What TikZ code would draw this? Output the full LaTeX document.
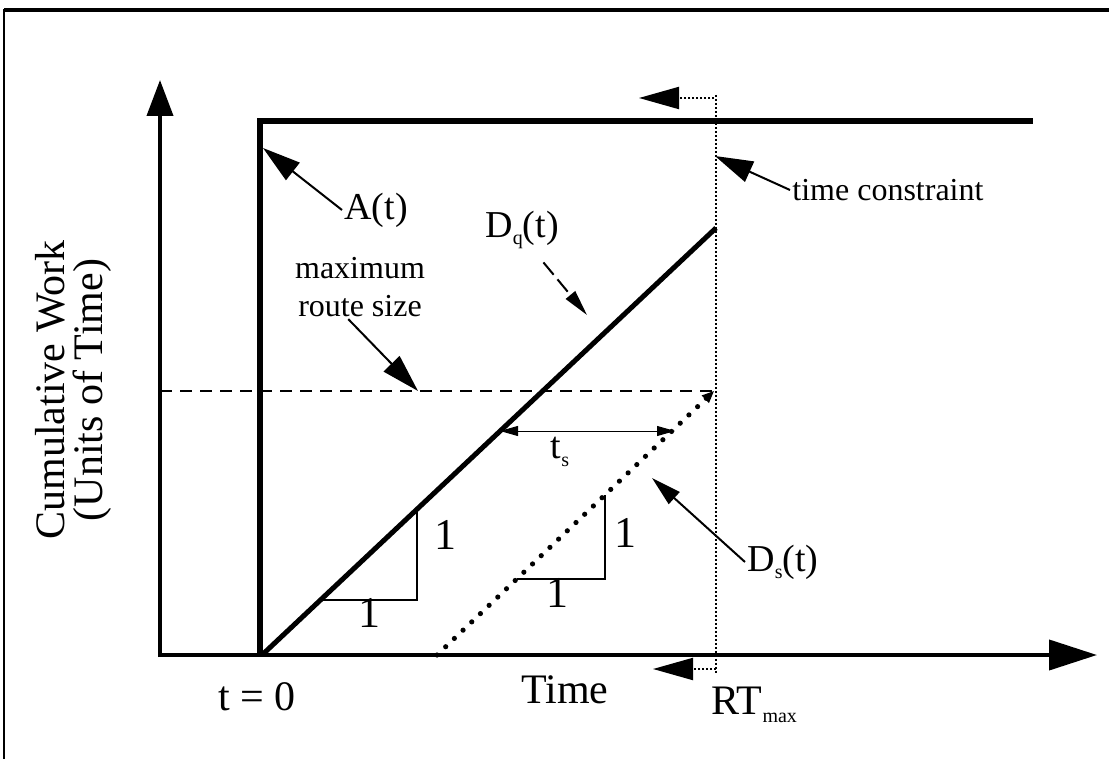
\documentclass[tikz,border=0pt]{standalone}
\usepackage{fontspec}
\setmainfont{Liberation Serif}
\usetikzlibrary{arrows.meta, positioning, calc}
\newcommand{\lowsub}[1]{\raisebox{-0.45ex}{\fontsize{10}{10}\selectfont #1}}

\begin{document}
\begin{tikzpicture}[x=0.5pt, y=-0.5pt,
    axis/.style={line width=2pt, -{Triangle[length=18pt, width=13pt]}},
    pointer/.style={line width=1pt, -{Triangle[length=19pt, width=11pt]}},
    smallptr/.style={line width=1pt, -{Triangle[length=13pt, width=6pt]}},
    limit/.style={line width=1pt, dash pattern=on 1pt off 1pt,
                  -{Triangle[length=20pt, width=11pt]}},
    lbl/.style={inner sep=1pt, font=\fontsize{16}{19}\selectfont, align=center},
    crv/.style={inner sep=1pt, font=\fontsize{19}{21}\selectfont},
    unit/.style={inner sep=1pt, font=\fontsize{22}{24}\selectfont},
    axlbl/.style={inner sep=1pt, font=\fontsize{21}{24}\selectfont}
]
    \useasboundingbox (0,0) rectangle (1109,759);
    % frame
    \draw[line width=2.2pt] (4,10) -- (1109,10);
    \draw[line width=1pt] (4,9) -- (4,759);

    % axes
    \coordinate (o) at (160,655);
    \coordinate (ytop) at (160,80);
    \coordinate (xend) at (1097,655);
    \draw[axis] ([yshift=-1pt]o) -- (ytop);
    \draw[axis, -{Triangle[length=24pt, width=15pt]}] ([xshift=-1pt]o) -- (xend);

    % arrival curve
    \coordinate (a0) at (260,655);
    \coordinate (a1) at (260,121);
    \coordinate (a2) at (1033,121);
    \draw[line width=3.4pt] (a0) -- (a1) -- (a2);

    % time constraint
    \coordinate (rt0) at (716,95);
    \coordinate (rt1) at (716,673);
    \draw[line width=0.9pt, dash pattern=on 0.9pt off 1.1pt] (rt0) -- (rt1);
    \coordinate (lt0) at (714,98);
    \coordinate (lt1) at (639,98);
    \draw[limit] (lt0) -- (lt1);
    \coordinate (lb0) at (716,669);
    \coordinate (lb1) at (653,669);
    \draw[limit] (lb0) -- (lb1);

    % maximum route size
    \coordinate (m0) at (160,391);
    \coordinate (m1) at (716,391);
    \draw[line width=1.2pt, dash pattern=on 6pt off 4pt] (m0) -- (m1);

    % departure curves
    \coordinate (q0) at (262,655);
    \coordinate (q1) at (716,228);
    \draw[line width=2.5pt] (q0) -- (q1);
    \coordinate (s0) at (437,655);
    \coordinate (s1) at (714,391);
    \draw[line width=2.6pt, line cap=round, dash pattern=on 0pt off 6pt] (s0) -- (s1);
    \draw[line width=1pt, -{Triangle[length=6pt, width=5pt]}] ($(s0)!0.97!(s1)$) -- (s1);

    % slope triangles
    \draw[line width=1pt] (321,600) -- (417,600) -- (417,509);
    \draw[line width=1pt] (517,579) -- (605,579) -- (605,495);
    \node[unit] (u1) at (369,613) {1};
    \node[unit] (u2) at (445,535) {1};
    \node[unit] (u3) at (557,593) {1};
    \node[unit] (u4) at (625,533) {1};

    % slack
    \coordinate (tsl) at (500,431);
    \coordinate (tsr) at (675,431);
    \draw[line width=0.5pt, {Triangle[length=9pt, width=5pt]}-{Triangle[length=9pt, width=5pt]}] (tsl) -- (tsr);
    \node[crv] (ts) at (560,452) {t\lowsub{s}};

    % labels
    \node[crv, anchor=west] (alab) at (342,210) {A(t)};
    \coordinate (atip) at (263,148);
    \draw[pointer] (alab.west) -- (atip);

    \node[lbl, anchor=west] (tc) at (790,190) {time constraint};
    \coordinate (tctip) at (715,156);
    \draw[pointer] (tc.west) -- (tctip);

    \node[lbl] (mrs) at (360,287) {maximum\\route size};
    \coordinate (mtip) at (418,391);
    \draw[pointer] (mrs.250) -- (mtip);

    \node[crv] (dq) at (522,230) {D\lowsub{q}(t)};
    \coordinate (dqtip) at (587,315);
    \draw[smallptr, dash pattern=on 8pt off 3pt, shorten <=7pt] (dq.-60) -- (dqtip);

    \node[crv, anchor=west] (ds) at (745,562) {D\lowsub{s}(t)};
    \coordinate (dstip) at (652,478);
    \draw[line width=1pt, -{Triangle[length=15pt, width=8pt]}] (ds.west) -- (dstip);

    % axis labels
    \node[axlbl] (t0) at (257,697) {t = 0};
    \node[axlbl] (time) at (565,690) {Time};
    \node[axlbl, anchor=west] (rtmax) at (709,705) {RT\lowsub{max}};
    \node[axlbl, rotate=90] (cw) at (50,390) {Cumulative Work};
    \node[axlbl, rotate=90] (ut) at (92,390) {(Units of Time)};
\end{tikzpicture}
\end{document}
